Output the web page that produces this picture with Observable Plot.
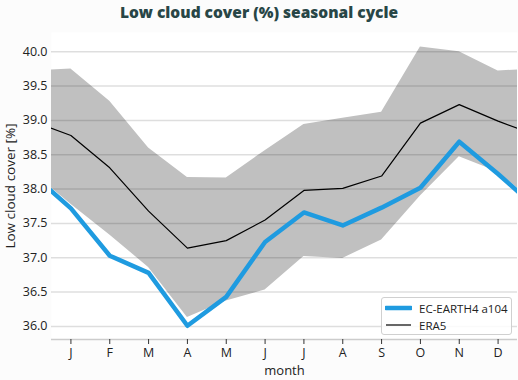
<!DOCTYPE html>
<html>
<head>
<meta charset="utf-8">
<script src="https://cdn.jsdelivr.net/npm/d3@7"></script>
<script src="https://cdn.jsdelivr.net/npm/@observablehq/plot@0.6"></script>
<style>
  body { margin: 0; background: #fcfcfc; font-family: "Open Sans", sans-serif; }
  #wrap { position: relative; width: 518px; height: 380px; }
  #title { height: 26px; line-height: 24px; text-align: center; font-weight: 800; font-size: 15.5px; color: #284646; }
  #legend { position: absolute; left: 381px; top: 297px; width: 129px; height: 36px; border: 1px solid #d0d0d0; border-radius: 3px; background: rgba(255,255,255,0.85); font-size: 11.5px; color: #222; }
  .row { position: absolute; left: 3px; height: 16px; display: flex; align-items: center; }
  .row span { margin-left: 7px; }
</style>
</head>
<body>
<div id="wrap">
  <div id="title">Low cloud cover (%) seasonal cycle</div>
  <div id="chart"></div>
  <div id="legend">
    <div class="row" style="top:2px"><svg width="27" height="8"><line x1="1" x2="26" y1="4" y2="4" stroke="#1f9be0" stroke-width="4.5" stroke-linecap="round"/></svg><span>EC-EARTH4 a104</span></div>
    <div class="row" style="top:19px"><svg width="27" height="8"><line x1="1" x2="26" y1="4" y2="4" stroke="#000" stroke-width="1.2"/></svg><span>ERA5</span></div>
  </div>
</div>
<script>
// months 0 (Dec, wrap) .. 13 (Jan, wrap)
const months = [0, 1, 2, 3, 4, 5, 6, 7, 8, 9, 10, 11, 12, 13];
const monthLabels = ["J", "F", "M", "A", "M", "J", "J", "A", "S", "O", "N", "D"];
const ecearth = [38.22, 37.72, 37.03, 36.78, 36.01, 36.43, 37.23, 37.66, 37.47, 37.73, 38.02, 38.69, 38.22, 37.72];
const era5    = [38.99, 38.78, 38.31, 37.68, 37.14, 37.25, 37.55, 37.98, 38.01, 38.19, 38.96, 39.23, 38.99, 38.78];
const bandLow = [38.25, 37.78, 37.33, 36.86, 36.13, 36.37, 36.53, 37.02, 36.99, 37.26, 37.90, 38.47, 38.25, 37.78];
const bandHigh= [39.72, 39.75, 39.28, 38.60, 38.17, 38.16, 38.56, 38.94, 39.03, 39.12, 40.07, 40.00, 39.72, 39.75];
const yTicks = [36.0, 36.5, 37.0, 37.5, 38.0, 38.5, 39.0, 39.5, 40.0];
const yDomain = [35.81, 40.28];
const xDomain = [0.5, 12.5];
const yLabel = "Low cloud cover [%]";
const xLabel = "month";

const rows = months.map((m, i) => ({m, ec: ecearth[i], era: era5[i], lo: bandLow[i], hi: bandHigh[i]}));

const chart = Plot.plot({
  width: 518,
  height: 354,
  marginLeft: 51,
  marginRight: 1,
  marginTop: 6,
  marginBottom: 41,
  style: {fontFamily: "'Open Sans', sans-serif", fontSize: "12.5px", color: "#222", background: "transparent"},
  x: {domain: xDomain},
  y: {domain: yDomain},
  marks: [
    Plot.frame({fill: "white", stroke: "none"}),
    Plot.areaY(rows, {x: "m", y1: "lo", y2: "hi", fill: "#c0c0c0", clip: true}),
    Plot.gridY(yTicks, {stroke: "#000", strokeOpacity: 0.13, strokeWidth: 1.5}),
    Plot.ruleY([yDomain[0]], {stroke: "#cccccc", strokeWidth: 1.5}),
    Plot.lineY(rows, {x: "m", y: "ec", stroke: "#1f9be0", strokeWidth: 4.5, clip: true}),
    Plot.lineY(rows, {x: "m", y: "era", stroke: "#000", strokeWidth: 1.2, clip: true}),
    Plot.axisY(yTicks, {tickSize: 0, tickPadding: 4, tickFormat: d => d.toFixed(1), label: null, fontSize: 12.5}),
    Plot.axisX(d3.range(1, 13), {tickSize: 5, tickPadding: 4, stroke: "#333", tickFormat: d => monthLabels[d - 1], label: null, fontSize: 12.5}),
    Plot.text([yLabel], {frameAnchor: "left", textAnchor: "middle", rotate: -90, dx: -41, fontSize: 13.5, fill: "#222"}),
    Plot.text([xLabel], {frameAnchor: "bottom", textAnchor: "middle", dy: 35, fontSize: 13, fill: "#222"})
  ]
});
document.getElementById("chart").appendChild(chart);
</script>
</body>
</html>
